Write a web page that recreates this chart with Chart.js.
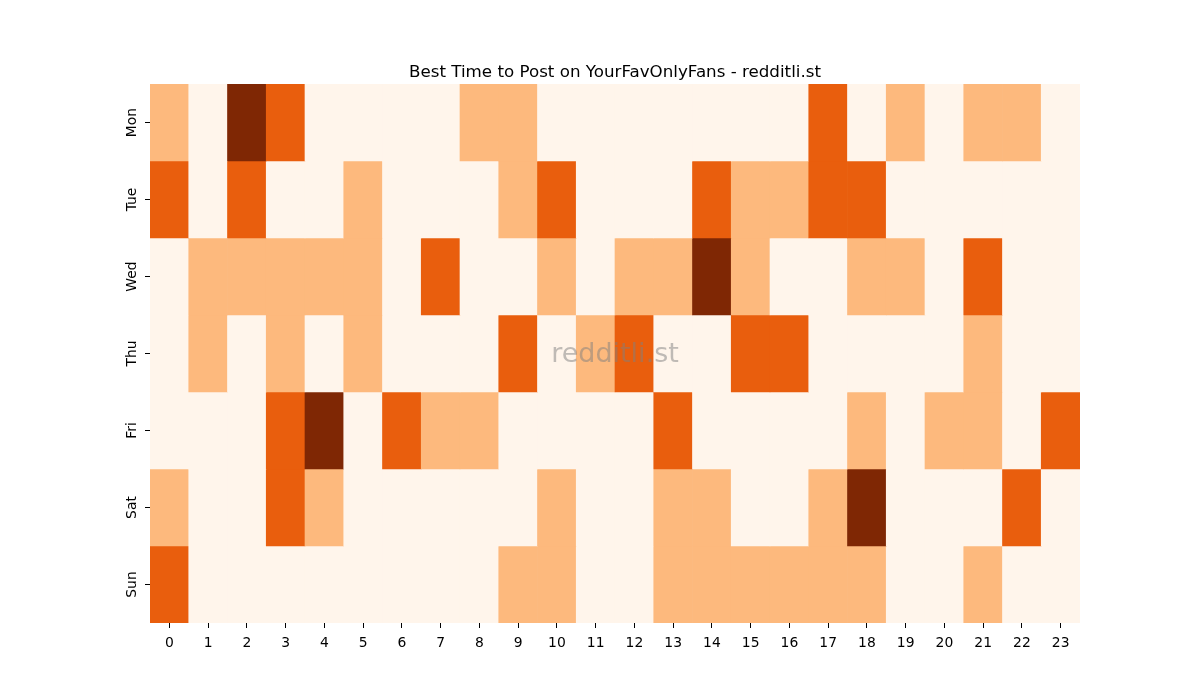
<!DOCTYPE html>
<html>
<head>
<meta charset="utf-8">
<title>Best Time to Post</title>
<script src="https://cdn.jsdelivr.net/npm/chart.js@4.4.1/dist/chart.umd.min.js"></script>
<style>
  body { margin: 0; background: #ffffff; }
  #wrap { width: 1200px; height: 700px; }
</style>
</head>
<body>
<div id="wrap"><canvas id="heatChart" width="1200" height="700"></canvas></div>
<script>
// Datos: filas por dia, columnas por hora (nivel 0-3)
var days = ['Mon', 'Tue', 'Wed', 'Thu', 'Fri', 'Sat', 'Sun'];
var hours = ['0', '1', '2', '3', '4', '5', '6', '7', '8', '9', '10', '11',
             '12', '13', '14', '15', '16', '17', '18', '19', '20', '21', '22', '23'];

var mon = [1, 0, 3, 2, 0, 0, 0, 0, 1, 1, 0, 0, 0, 0, 0, 0, 0, 2, 0, 1, 0, 1, 1, 0];
var tue = [2, 0, 2, 0, 0, 1, 0, 0, 0, 1, 2, 0, 0, 0, 2, 1, 1, 2, 2, 0, 0, 0, 0, 0];
var wed = [0, 1, 1, 1, 1, 1, 0, 2, 0, 0, 1, 0, 1, 1, 3, 1, 0, 0, 1, 1, 0, 2, 0, 0];
var thu = [0, 1, 0, 1, 0, 1, 0, 0, 0, 2, 0, 1, 2, 0, 0, 2, 2, 0, 0, 0, 0, 1, 0, 0];
var fri = [0, 0, 0, 2, 3, 0, 2, 1, 1, 0, 0, 0, 0, 2, 0, 0, 0, 0, 1, 0, 1, 1, 0, 2];
var sat = [1, 0, 0, 2, 1, 0, 0, 0, 0, 0, 1, 0, 0, 1, 1, 0, 0, 1, 3, 0, 0, 0, 2, 0];
var sun = [2, 0, 0, 0, 0, 0, 0, 0, 0, 1, 1, 0, 0, 1, 1, 1, 1, 1, 1, 0, 0, 1, 0, 0];

var rows = [mon, tue, wed, thu, fri, sat, sun];

// Escala de color "Oranges"
var levelColors = ['#fff5eb', '#fdb97d', '#e95e0d', '#7f2704'];

var FONT = '"DejaVu Sans", sans-serif';

// Cada dia es un dataset de barras flotantes [i, i+1]
var datasets = rows.map(function (row, i) {
    return {
        label: days[i],
        data: hours.map(function () { return [i, i + 1]; }),
        backgroundColor: row.map(function (v) { return levelColors[v]; }),
        borderWidth: 0,
        barPercentage: 1,
        categoryPercentage: 1,
        grouped: false
    };
});

// Titulo, etiquetas del eje y y marca de agua
var extras = {
    id: 'extras',
    afterDatasetsDraw: function (chart) {
        var ctx = chart.ctx;
        var area = chart.chartArea;
        ctx.save();
        ctx.fillStyle = 'rgba(128, 128, 128, 0.5)';
        ctx.font = '27px ' + FONT;
        ctx.textAlign = 'center';
        ctx.textBaseline = 'middle';
        ctx.fillText('redditli.st', (area.left + area.right) / 2, (area.top + area.bottom) / 2 + 1);
        ctx.restore();
    },
    afterDraw: function (chart) {
        var ctx = chart.ctx;
        var area = chart.chartArea;
        var yScale = chart.scales.y;
        ctx.save();
        ctx.fillStyle = '#000000';
        ctx.font = '16.7px ' + FONT;
        ctx.textAlign = 'center';
        ctx.textBaseline = 'alphabetic';
        ctx.fillText('Best Time to Post on YourFavOnlyFans - redditli.st', (area.left + area.right) / 2, 77);

        ctx.font = '13.9px ' + FONT;
        days.forEach(function (d, i) {
            var y = yScale.getPixelForValue(i + 0.5);
            ctx.save();
            ctx.translate(area.left - 18, y);
            ctx.rotate(-Math.PI / 2);
            ctx.textAlign = 'center';
            ctx.textBaseline = 'middle';
            ctx.fillText(d, 0, 0);
            ctx.restore();
        });
        ctx.restore();
    }
};

var ctxHeat = document.getElementById('heatChart').getContext('2d');
var heatChart = new Chart(ctxHeat, {
    type: 'bar',
    data: {
        labels: hours,
        datasets: datasets
    },
    options: {
        responsive: false,
        animation: false,
        devicePixelRatio: 1,
        layout: {
            padding: { left: 120, right: 120, top: 84, bottom: 37 }
        },
        scales: {
            x: {
                type: 'category',
                offset: true,
                grid: {
                    offset: false,
                    drawOnChartArea: false,
                    drawTicks: true,
                    tickLength: 5,
                    color: '#000000'
                },
                border: { display: false },
                ticks: {
                    color: '#000000',
                    font: { family: FONT, size: 13.9 },
                    padding: 7,
                    maxRotation: 0,
                    autoSkip: false
                },
                afterFit: function (scale) { scale.height = 40; }
            },
            y: {
                type: 'linear',
                min: 0,
                max: 7,
                reverse: true,
                afterBuildTicks: function (scale) {
                    scale.ticks = days.map(function (d, i) { return { value: i + 0.5 }; });
                },
                grid: {
                    drawOnChartArea: false,
                    drawTicks: true,
                    tickLength: 5,
                    color: '#000000'
                },
                border: { display: false },
                ticks: {
                    callback: function () { return ''; }
                },
                afterFit: function (scale) { scale.width = 30; }
            }
        },
        plugins: {
            legend: { display: false },
            tooltip: { enabled: false },
            title: { display: false }
        }
    },
    plugins: [extras]
});
</script>
</body>
</html>
